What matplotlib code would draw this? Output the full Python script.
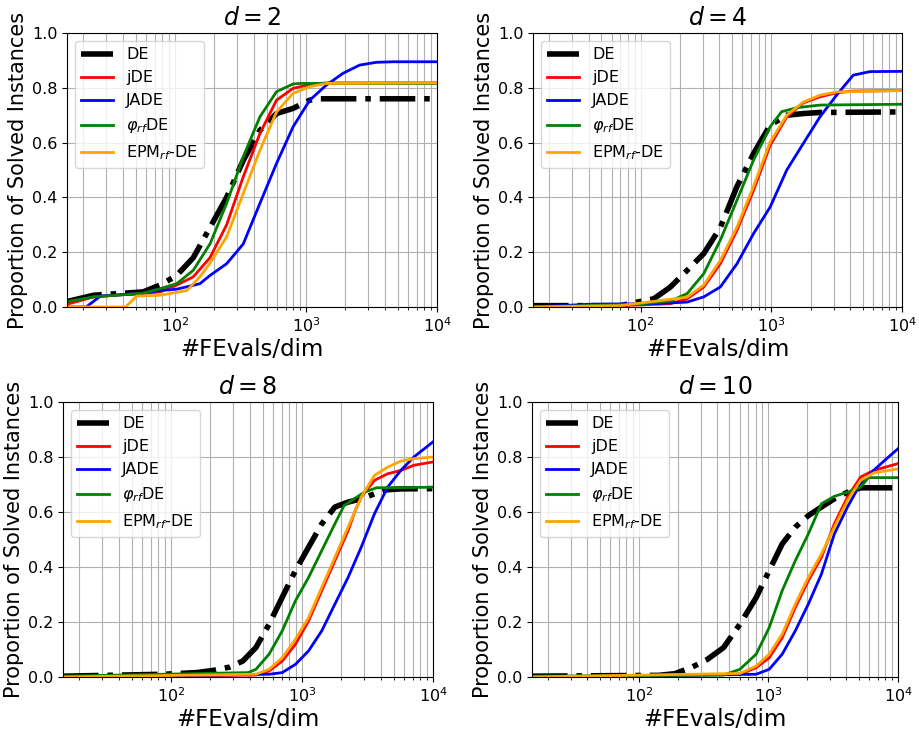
import matplotlib
matplotlib.use("Agg")
import matplotlib.pyplot as plt
import numpy as np

labels = ['DE', 'jDE', 'JADE', r'$\varphi_{rf}$DE', r'EPM$_{rf}$-DE']
colors = ['black', 'red', 'blue', 'green', 'orange']
titles = [r'$d = 2$', r'$d = 4$', r'$d = 8$', r'$d = 10$']

# ---- d = 2 ----
d2_DE_x = [15, 24, 57, 77, 103, 138, 185, 248, 332, 445, 596, 798, 1069, 1274, 10000]
d2_DE_y = [0.02, 0.043, 0.055, 0.08, 0.115, 0.18, 0.29, 0.40, 0.535, 0.645, 0.706, 0.725, 0.755, 0.76, 0.76]
d2_jDE_x = [15, 24, 77, 103, 138, 185, 248, 332, 445, 596, 798, 1069, 1432, 10000]
d2_jDE_y = [0.01, 0.037, 0.055, 0.08, 0.11, 0.18, 0.30, 0.475, 0.633, 0.755, 0.798, 0.812, 0.818, 0.818]
d2_JADE_x = [15, 21, 27, 57, 77, 103, 155, 185, 248, 332, 445, 596, 798, 1069, 1432, 1918, 2570, 3443, 4619, 10000]
d2_JADE_y = [0.0, 0.0, 0.04, 0.05, 0.06, 0.065, 0.085, 0.115, 0.158, 0.23, 0.378, 0.524, 0.658, 0.755, 0.81, 0.853, 0.883, 0.893, 0.895, 0.895]
d2_phi_x = [15, 24, 57, 77, 103, 138, 185, 248, 332, 445, 596, 798, 898, 10000]
d2_phi_y = [0.02, 0.037, 0.05, 0.067, 0.085, 0.134, 0.23, 0.378, 0.548, 0.694, 0.786, 0.814, 0.816, 0.816]
d2_EPM_x = [15, 42, 51, 77, 123, 155, 185, 248, 332, 445, 596, 798, 1069, 1432, 10000]
d2_EPM_y = [0.0, 0.0, 0.04, 0.043, 0.06, 0.11, 0.16, 0.256, 0.414, 0.572, 0.712, 0.78, 0.804, 0.816, 0.818]

# ---- d = 4 ----
d4_DE_x = [15, 70, 94, 126, 169, 227, 304, 407, 546, 731, 980, 1313, 1758, 2356, 10000]
d4_DE_y = [0.005, 0.005, 0.018, 0.03, 0.073, 0.134, 0.195, 0.29, 0.44, 0.56, 0.664, 0.70, 0.706, 0.71, 0.712]
d4_jDE_x = [15, 70, 169, 227, 304, 407, 546, 731, 980, 1313, 1758, 2356, 3157, 4230, 10000]
d4_jDE_y = [0.0, 0.005, 0.012, 0.03, 0.073, 0.158, 0.28, 0.426, 0.59, 0.694, 0.745, 0.767, 0.782, 0.788, 0.79]
d4_JADE_x = [15, 40, 126, 227, 304, 407, 546, 731, 980, 1313, 1758, 2356, 3157, 4230, 5666, 10000]
d4_JADE_y = [0.0, 0.01, 0.012, 0.018, 0.037, 0.073, 0.158, 0.268, 0.365, 0.50, 0.597, 0.694, 0.773, 0.846, 0.859, 0.86]
d4_phi_x = [15, 94, 169, 227, 304, 407, 546, 731, 980, 1200, 1600, 2356, 10000]
d4_phi_y = [0.0, 0.01, 0.022, 0.049, 0.122, 0.244, 0.39, 0.536, 0.658, 0.713, 0.728, 0.737, 0.74]
d4_EPM_x = [15, 70, 227, 304, 407, 546, 731, 980, 1313, 1758, 2356, 3157, 10000]
d4_EPM_y = [0.0, 0.005, 0.036, 0.08, 0.17, 0.292, 0.44, 0.603, 0.70, 0.748, 0.773, 0.785, 0.79]

# ---- d = 8 ----
d8_DE_x = [15, 88, 157, 210, 280, 353, 445, 561, 707, 891, 1123, 1416, 1783, 2248, 2832, 3571, 4500, 5670, 10000]
d8_DE_y = [0.003, 0.01, 0.016, 0.024, 0.036, 0.058, 0.107, 0.192, 0.29, 0.387, 0.472, 0.557, 0.618, 0.636, 0.648, 0.666, 0.681, 0.684, 0.685]
d8_jDE_x = [15, 445, 561, 707, 891, 1123, 1416, 1783, 2248, 2550, 2832, 3571, 4500, 5670, 7145, 10000]
d8_jDE_y = [0.0, 0.007, 0.022, 0.058, 0.119, 0.204, 0.314, 0.423, 0.532, 0.605, 0.654, 0.715, 0.739, 0.751, 0.77, 0.782]
d8_JADE_x = [15, 561, 707, 891, 1123, 1416, 1783, 2248, 2832, 3571, 4500, 5670, 7145, 10000]
d8_JADE_y = [0.0, 0.01, 0.016, 0.046, 0.095, 0.168, 0.265, 0.362, 0.472, 0.593, 0.69, 0.751, 0.80, 0.855]
d8_phi_x = [15, 390, 445, 561, 707, 891, 1123, 1416, 1783, 2100, 2500, 3000, 3700, 10000]
d8_phi_y = [0.003, 0.016, 0.028, 0.083, 0.168, 0.277, 0.362, 0.46, 0.557, 0.624, 0.648, 0.672, 0.688, 0.69]
d8_EPM_x = [15, 445, 561, 707, 891, 1123, 1416, 1783, 2248, 2832, 3571, 4500, 5670, 7145, 10000]
d8_EPM_y = [0.0, 0.01, 0.028, 0.07, 0.137, 0.216, 0.326, 0.435, 0.545, 0.654, 0.733, 0.763, 0.785, 0.794, 0.80]

# ---- d = 10 ----
d10_DE_x = [15, 142, 189, 253, 338, 451, 603, 805, 1015, 1278, 1613, 2032, 2564, 3228, 4074, 5140, 10000]
d10_DE_y = [0.003, 0.006, 0.012, 0.034, 0.064, 0.107, 0.192, 0.289, 0.387, 0.484, 0.545, 0.587, 0.618, 0.648, 0.672, 0.688, 0.688]
d10_jDE_x = [15, 603, 805, 1015, 1278, 1613, 2032, 2564, 3228, 4074, 5140, 6471, 10000]
d10_jDE_y = [0.0, 0.01, 0.034, 0.07, 0.143, 0.253, 0.35, 0.435, 0.557, 0.654, 0.727, 0.751, 0.776]
d10_JADE_x = [15, 805, 1015, 1278, 1613, 2032, 2564, 3228, 4074, 5140, 6471, 8166, 10000]
d10_JADE_y = [0.0, 0.01, 0.028, 0.083, 0.168, 0.265, 0.374, 0.52, 0.618, 0.703, 0.751, 0.794, 0.83]
d10_phi_x = [15, 451, 603, 805, 1015, 1278, 1613, 2032, 2564, 3228, 4074, 5140, 5900, 10000]
d10_phi_y = [0.003, 0.007, 0.028, 0.083, 0.18, 0.314, 0.423, 0.52, 0.63, 0.657, 0.672, 0.69, 0.725, 0.725]
d10_EPM_x = [15, 603, 805, 1015, 1278, 1613, 2032, 2564, 3228, 4074, 5140, 6471, 10000]
d10_EPM_y = [0.0, 0.013, 0.04, 0.083, 0.156, 0.265, 0.362, 0.447, 0.545, 0.642, 0.715, 0.742, 0.757]

panels = [
    [(d2_DE_x, d2_DE_y), (d2_jDE_x, d2_jDE_y), (d2_JADE_x, d2_JADE_y), (d2_phi_x, d2_phi_y), (d2_EPM_x, d2_EPM_y)],
    [(d4_DE_x, d4_DE_y), (d4_jDE_x, d4_jDE_y), (d4_JADE_x, d4_JADE_y), (d4_phi_x, d4_phi_y), (d4_EPM_x, d4_EPM_y)],
    [(d8_DE_x, d8_DE_y), (d8_jDE_x, d8_jDE_y), (d8_JADE_x, d8_JADE_y), (d8_phi_x, d8_phi_y), (d8_EPM_x, d8_EPM_y)],
    [(d10_DE_x, d10_DE_y), (d10_jDE_x, d10_jDE_y), (d10_JADE_x, d10_JADE_y), (d10_phi_x, d10_phi_y), (d10_EPM_x, d10_EPM_y)],
]

W, H = 919, 730
fig = plt.figure(figsize=(W / 100, H / 100), dpi=100)
# pixel boxes (left, top, right, bottom)
boxes = [(67, 33, 437, 307), (533, 33, 902, 307), (63, 402, 433, 677), (532, 402, 898, 677)]

for i, (box, series, title) in enumerate(zip(boxes, panels, titles)):
    l, t, r, b = box
    ax = fig.add_axes([l / W, (H - b) / H, (r - l) / W, (b - t) / H])
    for j, ((xs, ys), lab, col) in enumerate(zip(series, labels, colors)):
        if j == 0:
            ax.plot(xs, ys, color=col, lw=4, ls='-.', label=lab)
        else:
            ax.plot(xs, ys, color=col, lw=2, label=lab)
    ax.set_xscale('log')
    ax.set_xlim(15, 1e4)
    ax.set_ylim(0, 1.0)
    ax.set_yticks([0, 0.2, 0.4, 0.6, 0.8, 1.0])
    ax.grid(True, which='both', color='#b0b0b0', lw=0.8)
    ax.set_axisbelow(True)
    ax.tick_params(labelsize=11.5)
    ax.set_title(title, fontsize=17)
    ax.set_xlabel('#FEvals/dim', fontsize=16.5, labelpad=2)
    ax.set_ylabel('Proportion of Solved Instances', fontsize=15, labelpad=2.5)
    ax.legend(loc='upper left', fontsize=11.5)

fig.savefig('out.png', dpi=100)
